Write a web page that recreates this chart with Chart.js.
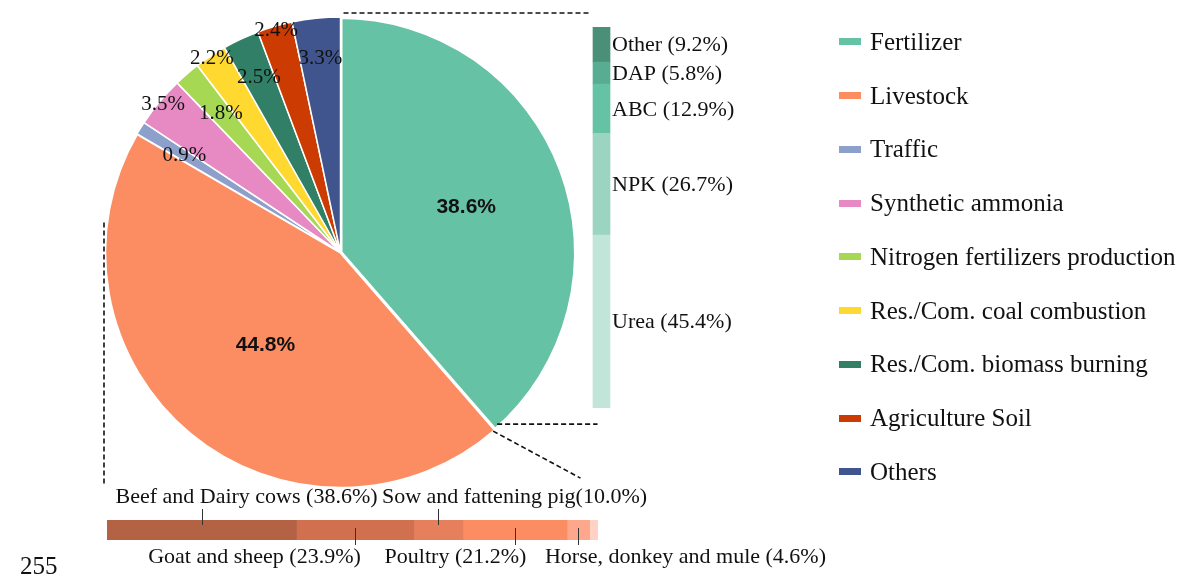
<!DOCTYPE html>
<html>
<head>
<meta charset="utf-8">
<script src="https://cdn.jsdelivr.net/npm/chart.js@4"></script>
<style>
  body { margin: 0; background: #fff; width: 1179px; height: 583px; overflow: hidden; position: relative; font-family: "Liberation Serif", serif; }
  canvas { position: absolute; }
  #legend { position: absolute; left: 839px; top: 15px; }
  .row { height: 53.75px; display: flex; align-items: center; font-size: 25px; color: #111; }
  .box { width: 22px; height: 7px; margin-right: 9px; }
  #page { position: absolute; left: 20px; top: 552px; font-size: 25px; color: #111; }
</style>
</head>
<body>
<canvas id="pie" width="1179" height="583" style="left:0;top:0"></canvas>
<canvas id="fert" width="200" height="583" style="left:583px;top:0"></canvas>
<canvas id="live" width="900" height="113" style="left:0;top:470px"></canvas>
<div id="legend"></div>
<div id="page">255</div>
<script>
// emission sources (pie)
const sources = ["Fertilizer", "Livestock", "Traffic", "Synthetic ammonia", "Nitrogen fertilizers production",
  "Res./Com. coal combustion", "Res./Com. biomass burning", "Agriculture Soil", "Others"];
const sourceShares = [38.6, 44.8, 0.9, 3.5, 1.8, 2.2, 2.5, 2.4, 3.3];
const sourceColors = ["#66c2a5", "#fc8d62", "#8da0cb", "#e78ac3", "#a6d854", "#ffd92f", "#317f66", "#cc3c02", "#40558e"];

// fertilizer breakdown (bottom to top)
const fertilizerTypes = ["Urea", "NPK", "ABC", "DAP", "Other"];
const fertilizerShares = [45.4, 26.7, 12.9, 5.8, 9.2];
const fertilizerColors = ["#c1e5d8", "#9bd5c1", "#66c2a5", "#58ac91", "#4a8f78"];

// livestock breakdown (left to right)
const livestockLabels = ["Beef and Dairy cows (38.6%)", "Goat and sheep (23.9%)", "Sow and fattening pig(10.0%)",
  "Poultry (21.2%)", "Horse, donkey and mule (4.6%)", ""];
const livestockShares = [38.6, 23.9, 10.0, 21.2, 4.6, 1.7];
const livestockColors = ["#b46244", "#d0704e", "#e67f5c", "#fc8d62", "#fda88c", "#fed2c4"];

// label placement (fraction of radius) for each pie slice
const labelRadius = [0.57, 0.5, 0.78, 0.98, 0.78, 0.99, 0.82, 0.98, 0.83];

const pieLabels = {
  id: "pieLabels",
  afterDatasetsDraw(chart) {
    const ctx = chart.ctx;
    const meta = chart.getDatasetMeta(0);
    ctx.save();
    ctx.textAlign = "center";
    ctx.textBaseline = "middle";
    ctx.fillStyle = "#111";
    meta.data.forEach((arc, i) => {
      const p = arc.getProps(["x", "y", "startAngle", "endAngle", "outerRadius"], true);
      const mid = (p.startAngle + p.endAngle) / 2;
      const r = p.outerRadius * labelRadius[i];
      ctx.font = i < 2 ? "bold 21px 'Liberation Sans'" : "21px 'Liberation Serif'";
      ctx.fillText(sourceShares[i].toFixed(1) + "%", p.x + Math.cos(mid) * r, p.y + Math.sin(mid) * r + (i < 2 ? 2 : 0));
    });

    // dashed connector lines
    const a = meta.data[0].getProps(["x", "y", "endAngle", "outerRadius"], true);
    const cx = a.x, cy = a.y, R = a.outerRadius;
    const tx = cx + Math.cos(a.endAngle) * R, ty = cy + Math.sin(a.endAngle) * R;
    ctx.strokeStyle = "#111";
    ctx.lineWidth = 1.6;
    ctx.setLineDash([5, 3]);
    ctx.beginPath();
    ctx.moveTo(cx + 3, cy - R - 4); ctx.lineTo(cx + 250, cy - R - 4);
    ctx.moveTo(tx + 2, ty - 6); ctx.lineTo(cx + 257, ty - 6);
    ctx.moveTo(tx - 2, ty + 1); ctx.lineTo(cx + 240, ty + 48);
    ctx.moveTo(cx - R - 1, cy - 30); ctx.lineTo(cx - R - 1, cy + R - 2);
    ctx.stroke();
    ctx.restore();
  }
};

const pieChart = new Chart(document.getElementById("pie"), {
  type: "pie",
  data: {
    labels: sources,
    datasets: [{
      data: sourceShares,
      backgroundColor: sourceColors,
      borderColor: "#fff",
      borderWidth: [4, 2.5, 1.5, 1.5, 1.5, 1.5, 1.5, 1.5, 1.5]
    }]
  },
  options: {
    responsive: false,
    animation: false,
    layout: { padding: { left: 103, right: 601, top: 15, bottom: 93 } },
    plugins: { legend: { display: false }, tooltip: { enabled: false } }
  },
  plugins: [pieLabels]
});

// html legend from the pie's own legend items
const legendEl = document.getElementById("legend");
pieChart.options.plugins.legend.labels.generateLabels(pieChart).forEach(item => {
  const row = document.createElement("div");
  row.className = "row";
  row.innerHTML = `<span class="box" style="background:${item.fillStyle}"></span>${item.text}`;
  legendEl.appendChild(row);
});

const fertLabels = {
  id: "fertLabels",
  afterDatasetsDraw(chart) {
    const ctx = chart.ctx;
    ctx.save();
    ctx.font = "22px 'Liberation Serif'";
    ctx.fillStyle = "#111";
    ctx.textBaseline = "middle";
    chart.data.datasets.forEach((ds, i) => {
      const bar = chart.getDatasetMeta(i).data[0];
      const p = bar.getProps(["x", "y", "base", "width"], true);
      ctx.fillText(`${fertilizerTypes[i]} (${fertilizerShares[i].toFixed(1)}%)`, p.x + p.width / 2 + 2, (p.y + p.base) / 2 + 1);
    });
    ctx.restore();
  }
};

new Chart(document.getElementById("fert"), {
  type: "bar",
  data: {
    labels: ["Fertilizer"],
    datasets: fertilizerTypes.map((t, i) => ({
      label: t, data: [fertilizerShares[i]], backgroundColor: fertilizerColors[i], barThickness: 17
    }))
  },
  options: {
    responsive: false,
    animation: false,
    layout: { padding: { left: 0, right: 163, top: 27, bottom: 175 } },
    plugins: { legend: { display: false }, tooltip: { enabled: false } },
    scales: {
      x: { stacked: true, display: false },
      y: { stacked: true, display: false, min: 0, max: 100 }
    }
  },
  plugins: [fertLabels]
});

// which side the callout sits on, and how far the text is shifted from the tick
const calloutUp = [true, false, true, false, false];
const calloutShift = [44, -101, 76, -60, 107];

const liveLabels = {
  id: "liveLabels",
  afterDatasetsDraw(chart) {
    const ctx = chart.ctx;
    ctx.save();
    ctx.font = "22px 'Liberation Serif'";
    ctx.fillStyle = "#111";
    ctx.strokeStyle = "#333";
    ctx.lineWidth = 1;
    ctx.textAlign = "center";
    ctx.textBaseline = "middle";
    livestockLabels.forEach((txt, i) => {
      if (!txt) return;
      const p = chart.getDatasetMeta(i).data[0].getProps(["x", "y", "base", "height"], true);
      const mx = Math.round((p.x + p.base) / 2) + 0.5;
      const top = p.y - p.height / 2, bottom = p.y + p.height / 2;
      ctx.beginPath();
      if (calloutUp[i]) {
        ctx.moveTo(mx, top - 11); ctx.lineTo(mx, top + 5);
        ctx.stroke();
        ctx.fillText(txt, mx + calloutShift[i], top - 23);
      } else {
        ctx.moveTo(mx, bottom - 12); ctx.lineTo(mx, bottom + 5);
        ctx.stroke();
        ctx.fillText(txt, mx + calloutShift[i], bottom + 17);
      }
    });
    ctx.restore();
  }
};

new Chart(document.getElementById("live"), {
  type: "bar",
  data: {
    labels: ["Livestock"],
    datasets: livestockShares.map((v, i) => ({
      label: livestockLabels[i], data: [v], backgroundColor: livestockColors[i], barThickness: 20
    }))
  },
  options: {
    indexAxis: "y",
    responsive: false,
    animation: false,
    layout: { padding: { left: 107, right: 302, top: 50, bottom: 43 } },
    plugins: { legend: { display: false }, tooltip: { enabled: false } },
    scales: {
      x: { stacked: true, display: false, min: 0, max: 100 },
      y: { stacked: true, display: false }
    }
  },
  plugins: [liveLabels]
});
</script>
</body>
</html>
